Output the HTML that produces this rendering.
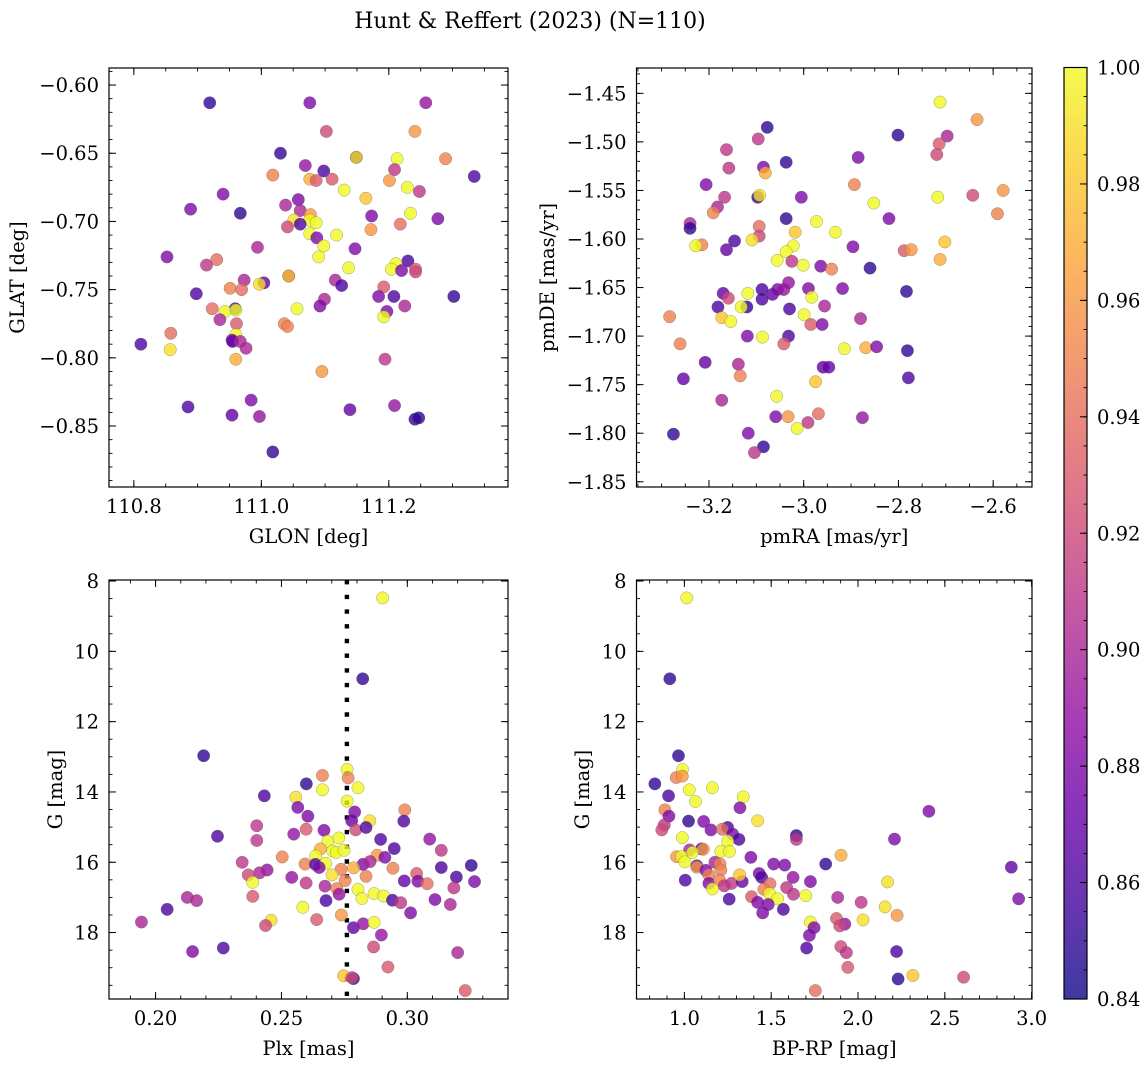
<!DOCTYPE html>
<html><head><meta charset="utf-8"><title>Hunt & Reffert (2023)</title>
<style>
html,body{margin:0;padding:0;background:#fff;}
svg{display:block;font-family:"DejaVu Serif","Liberation Serif",serif;}
</style></head>
<body>
<svg id="fig" width="1148" height="1067" viewBox="0 0 1148 1067" xmlns="http://www.w3.org/2000/svg">
<rect width="1148" height="1067" fill="#fff"/>
<text x="530" y="28" text-anchor="middle" font-size="22" fill="#000">Hunt &amp; Reffert (2023) (N=110)</text>
</svg>
<script>
// ---- Panel 1: GLON / GLAT ----
const p1Glon=[110.919,111.076,111.258,111.102,111.241,111.030,111.149,111.149,111.213,111.289,111.069,111.098,111.209,111.334,111.018,111.076,111.086,111.111,111.201,111.130,111.229,111.248,110.940,111.164,110.889,110.967,111.058,111.038,111.061,111.234,111.173,111.277,111.077,111.051,111.076,111.086,111.061,111.041,111.218,111.172,111.076,111.118,111.087,111.098,111.147,110.994,111.090,110.852,110.930,110.914,111.230,111.211,111.204,111.220,111.242,111.242,111.137,111.043,111.043,110.973,111.004,110.997,111.116,111.126,110.951,110.969,111.192,110.898,111.099,111.092,111.184,111.208,111.302,111.225,110.923,110.959,110.960,110.943,111.056,111.197,111.192,110.935,110.961,111.036,111.041,110.858,110.960,110.811,110.954,110.955,110.967,110.976,110.857,110.960,111.194,111.095,110.885,110.984,110.954,110.997,111.139,111.209,111.241,111.247,111.018];
const p1Glat=[-0.613,-0.613,-0.613,-0.634,-0.634,-0.650,-0.653,-0.653,-0.654,-0.654,-0.659,-0.663,-0.662,-0.667,-0.666,-0.669,-0.670,-0.669,-0.670,-0.677,-0.675,-0.678,-0.680,-0.683,-0.691,-0.694,-0.684,-0.688,-0.692,-0.694,-0.696,-0.698,-0.695,-0.699,-0.699,-0.701,-0.702,-0.704,-0.702,-0.706,-0.709,-0.710,-0.712,-0.718,-0.720,-0.719,-0.726,-0.726,-0.728,-0.732,-0.729,-0.731,-0.735,-0.736,-0.735,-0.737,-0.734,-0.740,-0.740,-0.743,-0.745,-0.746,-0.743,-0.747,-0.749,-0.750,-0.748,-0.753,-0.757,-0.762,-0.755,-0.755,-0.755,-0.762,-0.764,-0.764,-0.765,-0.766,-0.764,-0.766,-0.770,-0.772,-0.775,-0.775,-0.777,-0.782,-0.783,-0.790,-0.787,-0.788,-0.788,-0.793,-0.794,-0.801,-0.801,-0.810,-0.836,-0.831,-0.842,-0.843,-0.838,-0.835,-0.845,-0.844,-0.869];
const p1Prob=[.85,.88,.89,.92,.96,.85,.85,.99,1.0,.95,.89,.86,.91,.86,.95,.97,.93,.93,.96,1.0,1.0,.91,.88,.98,.88,.85,.88,.90,.90,1.0,.88,.88,.96,.99,1.0,1.0,.86,.92,.94,.96,1.0,1.0,.88,1.0,.88,.90,1.0,.88,.94,.91,.86,1.0,1.0,.88,.93,.92,1.0,.88,.98,.90,.87,.99,.90,.86,.95,.94,.93,.86,.90,.88,.88,.86,.85,.90,.94,.86,1.0,1.0,1.0,.88,1.0,.90,.93,.95,.95,.94,1.0,.86,.88,.87,.90,.90,.99,.97,.91,.96,.86,.88,.87,.89,.87,.89,.85,.85,.85];
const p1XTicks=[110.8,111.0,111.2];
const p1XTickLabels=["110.8","111.0","111.2"];
const p1YTicks=[-0.60,-0.65,-0.70,-0.75,-0.80,-0.85];
const p1YTickLabels=["\u22120.60","\u22120.65","\u22120.70","\u22120.75","\u22120.80","\u22120.85"];

// ---- Panel 2: pmRA / pmDE ----
const p2PmRA=[-2.712,-2.634,-3.077,-2.801,-2.697,-3.096,-2.714,-3.163,-2.719,-3.037,-2.885,-3.158,-3.085,-3.081,-3.206,-2.893,-2.579,-3.097,-3.093,-3.005,-2.717,-2.643,-3.167,-3.182,-3.191,-2.852,-2.591,-3.037,-2.820,-3.240,-3.240,-2.973,-3.094,-3.018,-2.933,-3.094,-3.109,-3.146,-3.215,-3.228,-3.022,-2.896,-2.702,-3.163,-2.788,-2.773,-3.037,-3.056,-3.025,-3.001,-2.964,-2.941,-2.712,-2.860,-3.032,-2.990,-2.918,-2.783,-3.170,-3.159,-3.118,-3.088,-3.088,-3.066,-3.055,-3.042,-2.983,-3.181,-3.120,-3.132,-3.030,-2.956,-3.283,-3.173,-3.154,-2.999,-2.985,-2.961,-2.880,-3.119,-3.087,-3.032,-3.042,-3.261,-2.914,-2.869,-2.846,-2.781,-3.208,-3.138,-3.134,-2.959,-2.947,-3.254,-2.779,-2.975,-3.173,-3.057,-3.059,-3.033,-2.969,-2.991,-2.876,-3.014,-3.275,-3.117,-3.085,-3.104];
const p2PmDE=[-1.459,-1.477,-1.485,-1.493,-1.494,-1.497,-1.502,-1.508,-1.513,-1.521,-1.516,-1.527,-1.526,-1.532,-1.544,-1.544,-1.550,-1.557,-1.555,-1.557,-1.557,-1.555,-1.557,-1.567,-1.573,-1.563,-1.574,-1.579,-1.579,-1.584,-1.589,-1.582,-1.587,-1.593,-1.593,-1.597,-1.601,-1.602,-1.606,-1.607,-1.607,-1.608,-1.603,-1.611,-1.612,-1.611,-1.613,-1.622,-1.623,-1.627,-1.628,-1.631,-1.621,-1.630,-1.645,-1.651,-1.651,-1.654,-1.656,-1.661,-1.656,-1.652,-1.662,-1.657,-1.652,-1.652,-1.660,-1.670,-1.670,-1.670,-1.672,-1.669,-1.680,-1.681,-1.685,-1.678,-1.688,-1.688,-1.682,-1.700,-1.701,-1.700,-1.708,-1.708,-1.713,-1.712,-1.711,-1.715,-1.727,-1.729,-1.741,-1.732,-1.732,-1.744,-1.743,-1.747,-1.766,-1.762,-1.783,-1.783,-1.780,-1.789,-1.784,-1.795,-1.801,-1.800,-1.814,-1.820];
const p2Prob=[1.0,.96,.85,.85,.90,.91,.93,.91,.92,.85,.88,.91,.88,.97,.88,.95,.96,.85,.99,.88,1.0,.92,.91,.90,.95,1.0,.95,.85,.88,.90,.85,1.0,.94,.98,1.0,.92,.99,.86,.95,1.0,1.0,.88,.98,.87,.93,.96,1.0,1.0,.91,1.0,.88,.95,.97,.85,.89,.88,.88,.85,.87,.92,1.0,.86,.86,.87,.88,.89,1.0,.86,.85,1.0,.86,.90,.95,.98,1.0,1.0,.93,.88,.90,.88,1.0,.86,.93,.95,1.0,.97,.88,.85,.87,.90,.95,.87,.87,.87,.86,.98,.90,1.0,.88,.96,.94,.91,.89,1.0,.85,.88,.85,.91];
const p2XTicks=[-3.2,-3.0,-2.8,-2.6];
const p2XTickLabels=["\u22123.2","\u22123.0","\u22122.8","\u22122.6"];
const p2YTicks=[-1.45,-1.50,-1.55,-1.60,-1.65,-1.70,-1.75,-1.80,-1.85];
const p2YTickLabels=["\u22121.45","\u22121.50","\u22121.55","\u22121.60","\u22121.65","\u22121.70","\u22121.75","\u22121.80","\u22121.85"];

// ---- Panel 3: Plx / G ----
const p3Plx=[0.2902,0.2823,0.2191,0.2761,0.2663,0.2765,0.2599,0.2663,0.2804,0.2432,0.2557,0.2761,0.2565,0.2990,0.2791,0.2605,0.2986,0.2851,0.2779,0.2402,0.2598,0.2669,0.2549,0.2795,0.2836,0.2246,0.2402,0.3089,0.2894,0.2684,0.2728,0.2948,0.3135,0.2655,0.2704,0.2718,0.2749,0.2503,0.2636,0.2880,0.2911,0.2344,0.2594,0.2635,0.2676,0.2650,0.2824,0.2852,0.2787,0.2737,0.2943,0.2443,0.2413,0.2368,0.3135,0.3254,0.2701,0.2836,0.2541,0.3037,0.2988,0.3042,0.3079,0.3195,0.3267,0.2386,0.2598,0.2753,0.2673,0.2720,0.2729,0.2804,0.2820,0.2868,0.2906,0.2941,0.2974,0.3110,0.3185,0.3171,0.2677,0.2126,0.2163,0.2386,0.2585,0.3013,0.2046,0.1944,0.2459,0.2437,0.2640,0.2738,0.2786,0.2825,0.2868,0.2897,0.2147,0.2269,0.2866,0.3200,0.2923,0.2747,0.2786,0.2780,0.3230];
const p3G=[8.48,10.78,12.97,13.36,13.53,13.60,13.77,13.94,13.88,14.11,14.15,14.26,14.44,14.51,14.57,14.69,14.83,14.82,14.82,14.96,15.06,15.09,15.20,15.08,15.01,15.26,15.38,15.34,15.35,15.40,15.31,15.61,15.66,15.62,15.68,15.72,15.66,15.85,15.82,15.80,15.86,16.00,16.05,16.06,16.03,16.15,16.06,15.98,16.16,16.20,16.17,16.22,16.30,16.36,16.15,16.09,16.36,16.40,16.43,16.32,16.53,16.54,16.61,16.42,16.55,16.57,16.59,16.52,16.68,16.75,16.91,16.77,17.03,16.89,16.96,17.08,17.15,17.06,16.73,17.20,17.09,17.00,17.09,16.97,17.28,17.44,17.34,17.70,17.65,17.80,17.63,17.50,17.86,17.75,17.71,18.07,18.54,18.44,18.41,18.57,18.98,19.23,19.31,19.28,19.65];
const p3Prob=[1.0,.85,.85,1.0,.95,.95,.85,1.0,1.0,.86,.99,1.0,.88,.95,.88,.88,.86,.99,.87,.91,.93,.88,.89,.92,.86,.86,.91,.89,.86,1.0,1.0,.86,.91,.97,1.0,1.0,1.0,.95,1.0,.96,.88,.91,.95,.86,1.0,.88,.88,.90,.97,.95,.95,.89,.90,.92,.86,.85,.99,.95,.89,.93,.87,.88,.94,.86,.88,1.0,.91,.95,.90,.95,.89,1.0,1.0,1.0,1.0,.86,.91,.88,.91,.90,.86,.90,.90,.93,1.0,.88,.86,.90,.99,.92,.93,.96,.87,.89,1.0,.89,.88,.86,.92,.90,.93,.98,.85,.92,.93];
const p3PlxRef=[0.2760];
const p3XTicks=[0.20,0.25,0.30];
const p3XTickLabels=["0.20","0.25","0.30"];
const gTicks=[8,10,12,14,16,18];
const gTickLabels=["8","10","12","14","16","18"];

// ---- Panel 4: BP-RP / G ----
const p4BpRp=[1.014,0.916,0.966,0.989,0.953,0.988,0.830,1.028,1.161,0.909,1.064,1.339,1.320,0.888,0.911,1.024,1.111,0.884,0.870,1.422,1.153,1.249,1.218,1.278,1.314,1.645,1.645,2.210,2.408,0.988,1.030,1.099,1.109,1.047,1.249,1.210,1.260,0.955,0.984,1.003,1.383,1.072,1.072,1.176,1.205,1.124,1.210,1.141,1.141,1.203,1.230,1.272,1.333,1.318,1.431,1.445,1.514,1.578,1.626,1.726,1.814,1.902,1.493,1.458,1.491,1.537,1.589,1.628,1.387,1.422,1.483,1.451,1.570,1.161,1.258,1.005,1.699,1.883,2.018,2.170,2.156,2.225,2.029,1.876,1.924,1.895,1.726,1.747,1.720,1.704,1.901,1.933,1.941,2.222,2.231,2.316,2.608,1.754,2.883,2.925];
const p4G=[8.48,10.78,12.97,13.36,13.59,13.55,13.77,13.94,13.88,14.11,14.27,14.14,14.45,14.51,14.69,14.83,14.84,14.94,15.08,14.82,15.08,15.01,15.06,15.20,15.35,15.24,15.35,15.34,14.55,15.30,15.65,15.62,15.63,15.72,15.40,15.69,15.69,15.84,15.84,15.99,15.86,16.10,16.14,16.00,16.05,16.23,16.22,16.36,16.60,16.51,16.67,16.60,16.55,16.36,16.32,16.43,16.05,16.08,16.43,16.55,16.05,15.80,16.61,16.77,16.89,17.04,16.72,16.91,16.98,17.14,17.20,17.44,17.34,16.76,17.05,16.51,16.95,17.00,17.14,16.56,17.27,17.51,17.64,17.60,17.76,17.81,17.70,17.86,18.08,18.44,18.40,18.57,18.99,18.54,19.32,19.22,19.27,19.65,16.14,17.04];
const p4Prob=[1.0,.85,.85,1.0,.95,.96,.85,1.0,1.0,.86,1.0,1.0,.88,.95,.88,.85,.88,.91,.92,.99,.88,.86,.94,.88,.86,.85,.91,.88,.88,1.0,.90,.86,.96,1.0,1.0,1.0,1.0,.96,1.0,1.0,.88,.86,.96,.90,.95,.88,.95,.95,.88,.95,.91,.91,.87,.98,.88,.86,.88,.88,.89,.88,.85,.97,.94,.95,1.0,1.0,.91,.91,.93,.88,.88,.88,.86,1.0,.86,.86,1.0,.90,.91,.99,.99,.96,.99,.93,.89,.92,1.0,.88,.88,.86,.92,.91,.93,.86,.85,.98,.92,.94,.87,.88];
const p4XTicks=[1.0,1.5,2.0,2.5,3.0];
const p4XTickLabels=["1.0","1.5","2.0","2.5","3.0"];

// ---- Colorbar ----
const cbTicks=[0.84,0.86,0.88,0.90,0.92,0.94,0.96,0.98,1.00];
const cbTickLabels=["0.84","0.86","0.88","0.90","0.92","0.94","0.96","0.98","1.00"];
const cbRange=[0.84,1.00];

const NS="http://www.w3.org/2000/svg";
const svg=document.getElementById('fig');
function mk(tag,attrs,parent){const e=document.createElementNS(NS,tag);for(const k in attrs)e.setAttribute(k,attrs[k]);(parent||svg).appendChild(e);return e;}
const plasmaStops=[[13,8,135],[65,4,157],[106,0,168],[143,13,164],[177,42,144],[204,71,120],[225,100,98],[242,132,75],[252,166,54],[252,206,37],[240,249,33]];
function plasma(t){t=Math.max(0,Math.min(1,t));const f=t*10,i=Math.min(9,Math.floor(f)),u=f-i;const a=plasmaStops[i],b=plasmaStops[i+1];return 'rgb('+[0,1,2].map(k=>Math.round(a[k]+(b[k]-a[k])*u)).join(',')+')';}
function cval(v){return plasma((v-cbRange[0])/(cbRange[1]-cbRange[0]));}
function linScale(d0,d1,r0,r1){return v=>r0+(v-d0)/(d1-d0)*(r1-r0);}
function fmtTickRange(a,b,step){const out=[];const s=Math.ceil(a/step-1e-9);const e=Math.floor(b/step+1e-9);for(let k=s;k<=e;k++)out.push(k*step);return out;}
const TICK_FS=19.5, LABEL_FS=19.5;

function panel(o){
  const g=mk('g',{});
  
  
  const sx=linScale(o.xd[0],o.xd[1],o.box[0],o.box[2]);
  const sy=linScale(o.yd[0],o.yd[1],o.box[1],o.box[3]);
  const [L,T,R,B]=o.box;
  fmtTickRange(Math.min(...o.xd),Math.max(...o.xd),o.xMinor).forEach(v=>{const x=sx(v);
    mk('line',{x1:x,y1:B,x2:x,y2:B-3.5,stroke:'#000','stroke-width':0.9},g);
    mk('line',{x1:x,y1:T,x2:x,y2:T+3.5,stroke:'#000','stroke-width':0.9},g);});
  fmtTickRange(Math.min(...o.yd),Math.max(...o.yd),o.yMinor).forEach(v=>{const y=sy(v);
    mk('line',{x1:L,y1:y,x2:L+3.5,y2:y,stroke:'#000','stroke-width':0.9},g);
    mk('line',{x1:R,y1:y,x2:R-3.5,y2:y,stroke:'#000','stroke-width':0.9},g);});
  o.xTicks.forEach((v,i)=>{const x=sx(v);
    mk('line',{x1:x,y1:B,x2:x,y2:B-7,stroke:'#000','stroke-width':1},g);
    mk('line',{x1:x,y1:T,x2:x,y2:T+7,stroke:'#000','stroke-width':1},g);
    const t=mk('text',{x:x,y:B+26,'text-anchor':'middle','font-size':TICK_FS,fill:'#000'},g);
    t.textContent=o.xTickLabels[i];
    
    });
  o.yTicks.forEach((v,i)=>{const y=sy(v);
    mk('line',{x1:L,y1:y,x2:L+7,y2:y,stroke:'#000','stroke-width':1},g);
    mk('line',{x1:R,y1:y,x2:R-7,y2:y,stroke:'#000','stroke-width':1},g);
    const t=mk('text',{x:L-10,y:y+7,'text-anchor':'end','font-size':TICK_FS,fill:'#000'},g);
    t.textContent=o.yTickLabels[i];
    
    });
  if(o.vline){o.vline.forEach(v=>{const l=mk('line',{x1:sx(v),y1:T,x2:sx(v),y2:B,stroke:'#000','stroke-width':4.4,'stroke-dasharray':'4.4 10.3'},g);
    
    });}
  const n=Math.min(o.x.length,o.y.length,o.c.length);
  for(let i=0;i<n;i++){
    const p=mk('circle',{cx:sx(o.x[i]),cy:sy(o.y[i]),r:6.2,fill:cval(o.c[i]),'fill-opacity':0.8,stroke:'rgba(90,90,90,0.55)','stroke-width':0.5},g);
    
    
  }
  const fr=mk('rect',{x:L,y:T,width:R-L,height:B-T,fill:'none',stroke:'#000','stroke-width':1.2},g);
  
  
  const xl=mk('text',{x:(L+R)/2,y:B+56,'text-anchor':'middle','font-size':LABEL_FS,fill:'#000'},g);
  xl.textContent=o.xLabel;
  
  
  const yl=mk('text',{x:o.yLabelX,y:(T+B)/2,'text-anchor':'middle','font-size':LABEL_FS,fill:'#000',transform:'rotate(-90 '+o.yLabelX+' '+((T+B)/2)+')'},g);
  yl.textContent=o.yLabel;
  
  
}

panel({name:'glon-glat-panel',box:[109,68,508,487],xd:[110.761,111.387],yd:[-0.5875,-0.8947],x:p1Glon,y:p1Glat,c:p1Prob,
  xTicks:p1XTicks,xTickLabels:p1XTickLabels,yTicks:p1YTicks,yTickLabels:p1YTickLabels,xMinor:0.05,yMinor:0.01,
  xLabel:'GLON [deg]',yLabel:'GLAT [deg]',yLabelX:24});
panel({name:'proper-motion-panel',box:[636.5,68,1032,487],xd:[-3.353,-2.518],yd:[-1.4239,-1.8554],x:p2PmRA,y:p2PmDE,c:p2Prob,
  xTicks:p2XTicks,xTickLabels:p2XTickLabels,yTicks:p2YTicks,yTickLabels:p2YTickLabels,xMinor:0.05,yMinor:0.01,
  xLabel:'pmRA [mas/yr]',yLabel:'pmDE [mas/yr]',yLabelX:554});
panel({name:'parallax-magnitude-panel',box:[109,580,508,999],xd:[0.1815,0.3400],yd:[7.97,19.89],x:p3Plx,y:p3G,c:p3Prob,vline:p3PlxRef,
  xTicks:p3XTicks,xTickLabels:p3XTickLabels,yTicks:gTicks,yTickLabels:gTickLabels,xMinor:0.01,yMinor:0.5,
  xLabel:'Plx [mas]',yLabel:'G [mag]',yLabelX:62});
panel({name:'color-magnitude-panel',box:[636.5,580,1032,999],xd:[0.7243,3.002],yd:[7.97,19.89],x:p4BpRp,y:p4G,c:p4Prob,
  xTicks:p4XTicks,xTickLabels:p4XTickLabels,yTicks:gTicks,yTickLabels:gTickLabels,xMinor:0.1,yMinor:0.5,
  xLabel:'BP-RP [mag]',yLabel:'G [mag]',yLabelX:589});

(function(){
  const L=1064,R=1087,T=67.5,B=999;
  const defs=mk('defs',{});
  const lg=mk('linearGradient',{id:'cbgrad',x1:0,y1:1,x2:0,y2:0},defs);
  for(let k=0;k<=20;k++){mk('stop',{offset:(k/20),'stop-color':plasma(k/20),'stop-opacity':0.8},lg);}
  const g=mk('g',{});
  
  
  mk('rect',{x:L,y:T,width:R-L,height:B-T,fill:'url(#cbgrad)'},g);
  const sy=linScale(cbRange[0],cbRange[1],B,T);
  fmtTickRange(cbRange[0],cbRange[1],0.005).forEach(v=>{const y=sy(v);mk('line',{x1:R,y1:y,x2:R-3.5,y2:y,stroke:'#000','stroke-width':0.9},g);});
  cbTicks.forEach((v,i)=>{const y=sy(v);
    mk('line',{x1:R,y1:y,x2:R-7,y2:y,stroke:'#000','stroke-width':1},g);
    const t=mk('text',{x:R+10,y:y+7,'font-size':TICK_FS,fill:'#000'},g);
    t.textContent=cbTickLabels[i];
    
    });
  mk('rect',{x:L,y:T,width:R-L,height:B-T,fill:'none',stroke:'#000','stroke-width':1.2},g);
})();
</script>
</body></html>
